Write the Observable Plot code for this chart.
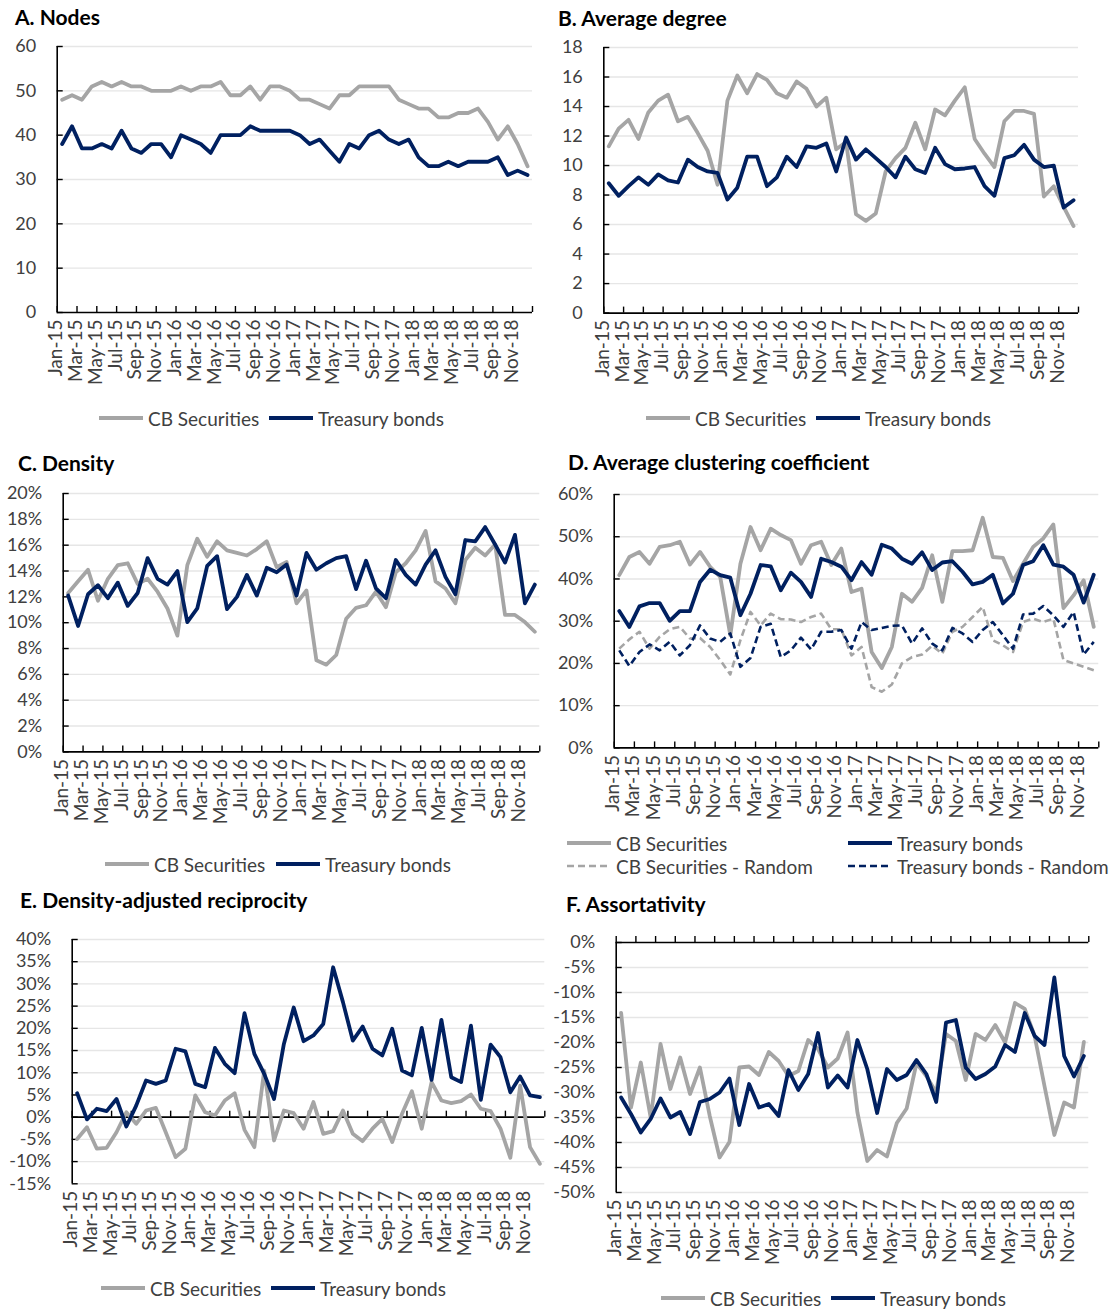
<!DOCTYPE html>
<html><head><meta charset="utf-8">
<script src="https://cdn.jsdelivr.net/npm/d3@7"></script>
<script src="https://cdn.jsdelivr.net/npm/@observablehq/plot@0.6"></script>
<style>
body{margin:0;background:#fff;font-family:Lato,"Open Sans",sans-serif;}
#root{position:relative;width:1112px;height:1311px;overflow:hidden;background:#fff}
.title{position:absolute;font-weight:bold;font-size:21px;color:#000;white-space:nowrap;line-height:24px}
.leg{position:absolute;font-size:19px;color:#404040;white-space:nowrap;display:flex;align-items:center;height:24px}
.leg svg{margin-right:4px}
.plot{position:absolute}
</style></head><body><div id="root"></div><script>
// ---------- categories and tick labels ----------
const months = ["Jan-15","Feb-15","Mar-15","Apr-15","May-15","Jun-15","Jul-15","Aug-15","Sep-15","Oct-15","Nov-15","Dec-15",
"Jan-16","Feb-16","Mar-16","Apr-16","May-16","Jun-16","Jul-16","Aug-16","Sep-16","Oct-16","Nov-16","Dec-16",
"Jan-17","Feb-17","Mar-17","Apr-17","May-17","Jun-17","Jul-17","Aug-17","Sep-17","Oct-17","Nov-17","Dec-17",
"Jan-18","Feb-18","Mar-18","Apr-18","May-18","Jun-18","Jul-18","Aug-18","Sep-18","Oct-18","Nov-18","Dec-18"];
const tickLabels = ["Jan-15","Mar-15","May-15","Jul-15","Sep-15","Nov-15","Jan-16","Mar-16","May-16","Jul-16","Sep-16","Nov-16",
"Jan-17","Mar-17","May-17","Jul-17","Sep-17","Nov-17","Jan-18","Mar-18","May-18","Jul-18","Sep-18","Nov-18"];

// ---------- A. Nodes ----------
const nodesCB = [48,49,48,51,52,51,52,51,51,50,50,50,51,50,51,51,52,49,49,51,48,51,51,50,
48,48,47,46,49,49,51,51,51,51,48,47,46,46,44,44,45,45,46,43,39,42,38,33];
const nodesTB = [38,42,37,37,38,37,41,37,36,38,38,35,40,39,38,36,40,40,40,42,41,41,41,41,
40,38,39,36.5,34,38,37,40,41,39,38,39,35,33,33,34,33,34,34,34,35,31,32,31];

// ---------- B. Average degree ----------
const degCB = [11.3,12.5,13.1,11.8,13.6,14.4,14.8,13.0,13.3,12.2,11.0,8.7,14.4,16.1,14.9,16.2,15.8,14.9,14.6,15.7,15.2,14.0,14.6,11.1,
11.6,6.7,6.25,6.75,9.6,10.5,11.2,12.9,11.1,13.8,13.4,14.4,15.3,11.8,10.8,9.9,13.0,13.7,13.7,13.5,7.9,8.6,7.2,5.9];
const degTB = [8.8,7.95,8.6,9.2,8.7,9.4,9.0,8.85,10.4,9.9,9.6,9.5,7.7,8.5,10.6,10.6,8.6,9.2,10.6,9.9,11.3,11.2,11.5,9.6,
11.9,10.4,11.1,10.5,9.9,9.2,10.6,9.75,9.5,11.2,10.1,9.75,9.8,9.9,8.6,7.95,10.5,10.7,11.4,10.4,9.9,10.0,7.15,7.65];

// ---------- C. Density (%) ----------
const densCB = [12.3,13.2,14.1,11.7,13.4,14.45,14.6,13.0,13.4,12.4,11.1,9.0,14.45,16.5,15.1,16.3,15.6,15.4,15.2,15.7,16.3,14.3,14.7,11.5,
12.5,7.1,6.75,7.5,10.3,11.15,11.35,12.4,11.2,13.9,14.6,15.6,17.1,13.2,12.65,11.5,14.85,15.8,15.2,16.05,10.6,10.6,10.05,9.3];
const densTB = [12.1,9.75,12.2,12.9,11.9,13.1,11.3,12.3,15.0,13.4,12.95,14.0,10.05,11.1,14.4,15.15,11.05,12.0,13.7,12.1,14.25,13.9,14.5,12.1,
15.4,14.1,14.6,15.0,15.15,12.6,14.8,12.65,11.9,14.85,13.7,12.95,14.5,15.6,13.55,12.2,16.4,16.3,17.4,16.05,14.65,16.8,11.5,12.95];

// ---------- D. Average clustering coefficient (%) ----------
const clusCB = [40.9,45.2,46.4,43.6,47.6,48.0,48.8,43.4,46.4,42.9,40.5,26.7,43.6,52.3,46.8,51.9,50.4,49.2,43.6,48.0,48.8,43.3,47.2,
36.9,37.7,22.7,18.9,23.9,36.5,34.6,37.9,45.6,34.6,46.6,46.6,46.8,54.5,45.2,45.0,39.5,43.6,47.6,49.6,52.9,33.1,36.1,39.7,28.65];
const clusTB = [32.4,28.65,33.5,34.3,34.3,30.1,32.4,32.4,39.3,42.2,40.9,40.3,31.4,36.5,43.3,43.0,37.3,41.5,39.3,35.75,44.8,44.0,42.9,
39.7,44.0,41.0,48.1,47.2,44.8,43.6,46.3,42.1,43.9,44.2,41.7,38.7,39.3,41.0,34.2,36.5,43.3,44.2,48.0,43.4,42.9,41.0,34.4,41.0];
const clusCBRandom = [23.5,25.7,27.5,23.5,26.3,28.1,28.65,25.9,26.0,23.9,20.8,17.4,25.5,32.2,29.0,31.8,30.5,30.4,29.8,31.0,31.8,28.1,28.1,
21.9,23.9,14.4,13.3,15.0,20.0,21.5,22.1,24.2,22.3,27.5,28.65,31.0,33.4,25.5,24.3,22.7,29.8,30.6,29.8,30.6,20.8,20.0,19.2,18.4];
const clusTBRandom = [23.1,19.4,22.7,24.5,23.1,25.1,21.9,24.3,29.0,25.9,25.1,27.1,19.2,21.3,28.65,29.4,21.5,23.1,26.1,23.3,27.5,27.5,27.9,
23.5,29.8,27.9,28.4,28.9,29.0,24.7,28.3,24.7,23.1,28.4,27.1,25.1,27.9,29.8,26.7,23.5,31.6,31.8,33.6,31.4,28.65,32.2,22.1,25.1];

// ---------- E. Density-adjusted reciprocity (%) ----------
const recCB = [-4.9,-2.25,-7.1,-6.9,-3.4,1.1,-1.5,1.5,2.1,-3.4,-9.0,-7.1,4.9,1.1,0.4,3.75,5.4,-2.85,-6.75,10.5,-5.25,1.5,0.9,
-2.6,3.4,-3.75,-3.15,1.5,-3.75,-5.4,-2.6,-0.4,-5.6,0.75,5.85,-2.6,7.9,3.75,3.15,3.6,5.1,1.9,1.35,-2.6,-9.15,7.1,-6.75,-10.5];
const recTB = [5.4,-0.5,1.9,1.35,4.1,-2.1,2.6,8.25,7.5,8.25,15.4,14.8,7.5,6.75,15.6,12.0,9.9,23.4,14.25,9.75,4.1,16.5,24.7,
17.1,18.4,21.0,33.75,25.9,17.25,20.4,15.4,13.9,19.9,10.5,9.4,20.1,8.4,21.9,9.0,7.9,20.6,3.9,16.35,13.5,5.6,9.15,4.9,4.5];

// ---------- F. Assortativity (%) ----------
const assCB = [-14.1,-33,-24,-35,-20.3,-29.3,-23,-30.3,-25,-34.7,-43,-39.9,-25,-24.8,-26.5,-21.9,-23.7,-26.7,-25.7,-19.5,-21.3,-25,-23.2,
-18,-34,-43.7,-41.5,-42.8,-36.1,-33.2,-24.1,-26.7,-30,-18.3,-19.7,-27.5,-18.3,-19.5,-16.5,-20,-12.1,-13.3,-18.7,-28.7,-38.5,-32,-33,-19.9];
const assTB = [-31,-34.3,-38,-35.3,-31.2,-35,-33.9,-38.3,-31.9,-31.3,-30,-27.2,-36.5,-28.3,-33,-32.3,-34.7,-25.5,-29.5,-26.3,-18.1,-29,-26.6,
-29,-19.5,-25.3,-34.1,-25.3,-27.5,-26.5,-23.5,-26.3,-31.9,-16,-15.5,-25,-27.3,-26.3,-24.8,-20.5,-21.9,-14.1,-18.7,-20.5,-7,-22.7,-26.8,-22.7];

// ---------- y-axis ticks ----------
const ticksA = [0,10,20,30,40,50,60];
const ticksB = [0,2,4,6,8,10,12,14,16,18];
const ticksC = [0,2,4,6,8,10,12,14,16,18,20];
const ticksD = [0,10,20,30,40,50,60];
const ticksE = [-15,-10,-5,0,5,10,15,20,25,30,35,40];
const ticksF = [-50,-45,-40,-35,-30,-25,-20,-15,-10,-5,0];

const GRAY = "#a5a5a5", NAVY = "#002060", TXT = "#404040", FONT = "Lato, 'Open Sans', sans-serif";
const root = document.getElementById("root");
const pct = d => d + "%";
const plain = d => String(d);

function drawPanel(p){
  const mT = 14, mB = 95, mR = 14;
  const left = p.svgLeft;
  const top = p.y0 - mT;
  const width = (p.x1 - left) + mR;
  const height = (p.y1 - p.y0) + mT + mB;
  const tickIdx = d3.range(0, 48, 2);
  const bounds = d3.range(0, 49, 2);
  const up = p.tickDir === "up";
  const marks = [
    Plot.ruleY(p.ticks.filter(t => t !== p.axisAt), {y: d => d, stroke: "#e6e6e6", strokeWidth: 1.4}),
    Plot.ruleX([0], {x: d => d, stroke: "#000", strokeWidth: 1.6}),
    Plot.ruleY([p.axisAt], {y: d => d, stroke: "#000", strokeWidth: 1.6}),
    Plot.ruleY(p.ticks, {y: d => d, x1: () => 0, x2: () => 0, insetRight: -6, stroke: "#000", strokeWidth: 1.4}),
    Plot.ruleX(bounds, {x: d => d, y1: () => p.axisAt, y2: () => p.axisAt,
      insetTop: up ? 0 : -6, insetBottom: up ? 6 : 0, stroke: "#000", strokeWidth: 1.4}),
    Plot.text(p.ticks, {x: () => 0, y: d => d, text: p.fmt, textAnchor: "end", dx: -21, fill: TXT, fontSize: 18}),
    Plot.text(tickIdx, {x: d => d + 0.5, text: (d, k) => tickLabels[k], frameAnchor: "bottom", rotate: -90,
      textAnchor: "end", dy: 7, fill: TXT, fontSize: 19})
  ];
  for (const s of p.series) {
    const rows = s.values.map((v, i) => ({month: months[i], i, v}));
    marks.push(Plot.line(rows, {x: d => d.i + 0.5, y: "v", stroke: s.color, strokeWidth: s.width || 3.8,
      strokeDasharray: s.dash, strokeLinejoin: "round", strokeLinecap: s.dash ? "butt" : "round"}));
  }
  const chart = Plot.plot({
    width, height, marginLeft: p.x0 - left, marginRight: mR, marginTop: mT, marginBottom: mB,
    x: {domain: [0, 48], axis: null},
    y: {domain: p.domain, axis: null},
    style: {fontFamily: FONT, fontSize: "18px", background: "transparent", overflow: "visible"},
    marks
  });
  chart.classList.add("plot");
  chart.style.left = left + "px";
  chart.style.top = top + "px";
  root.appendChild(chart);

  const t = document.createElement("div");
  t.className = "title";
  t.textContent = p.title;
  t.style.left = p.titleX + "px";
  t.style.top = (p.titleY - 12) + "px";
  root.appendChild(t);

  for (const s of p.series) {
    const item = document.createElement("div");
    item.className = "leg";
    item.style.left = s.legX + "px";
    item.style.top = (s.legY - 12) + "px";
    const sw = d3.create("svg").attr("width", 46).attr("height", 10);
    sw.append("line").attr("x1", 1).attr("x2", 45).attr("y1", 5).attr("y2", 5)
      .attr("stroke", s.color).attr("stroke-width", s.width || 3.8)
      .attr("stroke-dasharray", s.dash || null);
    item.appendChild(sw.node());
    const sp = document.createElement("span");
    sp.textContent = s.name;
    item.appendChild(sp);
    root.appendChild(item);
  }
}

drawPanel({title: "A. Nodes", titleX: 15, titleY: 17, svgLeft: 0, x0: 56.7, x1: 532, y0: 45.7, y1: 311.7,
  domain: [0, 60], ticks: ticksA, fmt: plain, axisAt: 0, tickDir: "up",
  series: [
    {name: "CB Securities", values: nodesCB, color: GRAY, legX: 98, legY: 418},
    {name: "Treasury bonds", values: nodesTB, color: NAVY, legX: 268, legY: 418}
  ]});
drawPanel({title: "B. Average degree", titleX: 558, titleY: 18, svgLeft: 548, x0: 603.3, x1: 1078, y0: 46.7, y1: 312.3,
  domain: [0, 18], ticks: ticksB, fmt: plain, axisAt: 0, tickDir: "up",
  series: [
    {name: "CB Securities", values: degCB, color: GRAY, legX: 645, legY: 418},
    {name: "Treasury bonds", values: degTB, color: NAVY, legX: 815, legY: 418}
  ]});
drawPanel({title: "C. Density", titleX: 18, titleY: 463, svgLeft: 0, x0: 62.7, x1: 539.3, y0: 493.3, y1: 751.7,
  domain: [0, 20], ticks: ticksC, fmt: pct, axisAt: 0, tickDir: "up",
  series: [
    {name: "CB Securities", values: densCB, color: GRAY, legX: 104, legY: 864},
    {name: "Treasury bonds", values: densTB, color: NAVY, legX: 275, legY: 864}
  ]});
drawPanel({title: "D. Average clustering coefficient", titleX: 568, titleY: 462, svgLeft: 548, x0: 613.7, x1: 1098.3, y0: 494.3, y1: 747.7,
  domain: [0, 60], ticks: ticksD, fmt: pct, axisAt: 0, tickDir: "up",
  series: [
    {name: "CB Securities", values: clusCB, color: GRAY, legX: 566, legY: 843},
    {name: "Treasury bonds", values: clusTB, color: NAVY, legX: 847, legY: 843},
    {name: "CB Securities - Random", values: clusCBRandom, color: GRAY, dash: "7,4", width: 2.6, legX: 566, legY: 866},
    {name: "Treasury bonds - Random", values: clusTBRandom, color: NAVY, dash: "7,4", width: 2.6, legX: 847, legY: 866}
  ]});
drawPanel({title: "E. Density-adjusted reciprocity", titleX: 20, titleY: 900, svgLeft: 0, x0: 71.7, x1: 544.3, y0: 939, y1: 1183.3,
  domain: [-15, 40], ticks: ticksE, fmt: pct, axisAt: 0, tickDir: "down",
  series: [
    {name: "CB Securities", values: recCB, color: GRAY, legX: 100, legY: 1288},
    {name: "Treasury bonds", values: recTB, color: NAVY, legX: 270, legY: 1288}
  ]});
drawPanel({title: "F. Assortativity", titleX: 566, titleY: 904, svgLeft: 548, x0: 615.7, x1: 1088.3, y0: 941.7, y1: 1191.7,
  domain: [-50, 0], ticks: ticksF, fmt: pct, axisAt: 0, tickDir: "down",
  series: [
    {name: "CB Securities", values: assCB, color: GRAY, legX: 660, legY: 1298},
    {name: "Treasury bonds", values: assTB, color: NAVY, legX: 830, legY: 1298}
  ]});
</script></body></html>
